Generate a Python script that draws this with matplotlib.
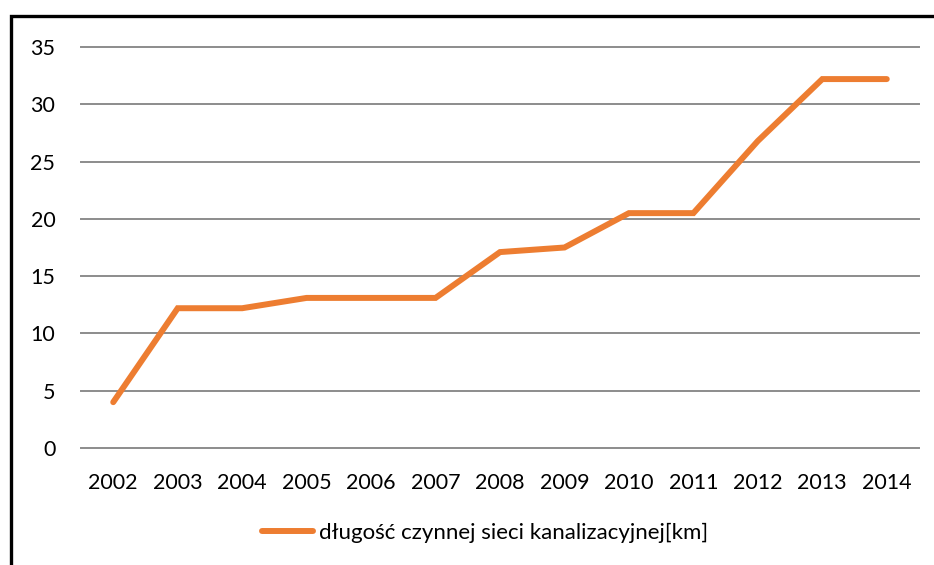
import matplotlib
matplotlib.use("Agg")
import matplotlib.pyplot as plt
from matplotlib.patches import Rectangle

years = ["2002", "2003", "2004", "2005", "2006", "2007", "2008",
         "2009", "2010", "2011", "2012", "2013", "2014"]
length_km = [4.0, 12.2, 12.2, 13.1, 13.1, 13.1, 17.1, 17.5, 20.5, 20.5, 26.8, 32.2, 32.2]
y_ticks = [0, 5, 10, 15, 20, 25, 30, 35]
series_label = "długość czynnej sieci kanalizacyjnej[km]"

plt.rcParams["font.family"] = ["Lato", "DejaVu Sans"]

W, H = 934, 565
fig = plt.figure(figsize=(W / 100, H / 100), dpi=100)
fig.patch.set_facecolor("white")

# chart frame (runs off the right and bottom edges)
fig.add_artist(Rectangle((10.5 / W, -0.1), 1.2, (H - 16.5) / H + 0.1,
                         transform=fig.transFigure, fill=False,
                         edgecolor="black", linewidth=2.4))

ax = fig.add_axes([81 / W, (H - 448) / H, 838 / W, 401 / H])
x = list(range(len(years)))
ax.plot(x, length_km, color="#ED7D31", linewidth=4.3,
        solid_capstyle="round", solid_joinstyle="miter", label=series_label,
        zorder=3)

ax.set_xlim(-0.5, len(years) - 0.5)
ax.set_ylim(0, 35)
ax.set_yticks(y_ticks)
ax.set_xticks(x)
ax.set_xticklabels(years)
for s in ax.spines.values():
    s.set_visible(False)
ax.tick_params(axis="both", length=0, labelsize=15.5, colors="black")
ax.tick_params(axis="y", pad=18.5)
ax.tick_params(axis="x", pad=18)
ax.yaxis.grid(True, color="#8c8c8c", linewidth=1.4)
ax.set_axisbelow(True)
for gl in ax.get_ygridlines():
    gl.set_clip_on(False)

fig.legend(loc="center", bbox_to_anchor=(485 / W, (H - 533) / H),
           frameon=False, fontsize=16, handlelength=2.3, handletextpad=0.3)

fig.savefig("out.png", dpi=100, facecolor="white")
